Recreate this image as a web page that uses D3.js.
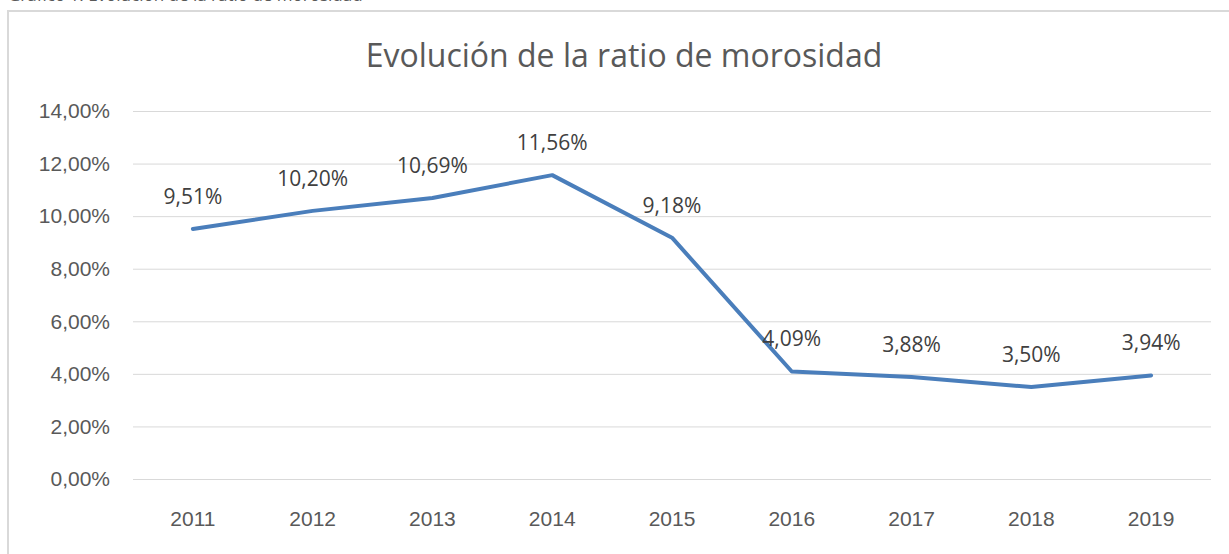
<!DOCTYPE html>
<html lang="es">
<head>
    <meta charset="UTF-8">
    <title>Evolución de la ratio de morosidad</title>
    <script src="https://d3js.org/d3.v7.min.js"></script>
    <style>
        body { margin: 0; background: #fff; }
        svg { display: block; font-family: "Open Sans", "Noto Sans", sans-serif; }
    </style>
</head>
<body>
    <svg width="1229" height="554"></svg>
    <script>
        // Datos
        const years = ["2011", "2012", "2013", "2014", "2015", "2016", "2017", "2018", "2019"];
        const ratio = [9.51, 10.20, 10.69, 11.56, 9.18, 4.09, 3.88, 3.50, 3.94];
        const yTicks = [0, 2, 4, 6, 8, 10, 12, 14];

        const data = years.map((y, i) => ({ year: y, value: ratio[i] }));
        const fmt = v => d3.format(".2f")(v).replace(".", ",") + "%";

        const svg = d3.select("svg");
        const margin = {top: 111, right: 18, bottom: 75, left: 133};
        const width = 1229 - margin.left - margin.right;
        const height = 554 - margin.top - margin.bottom;

        // caption cortado arriba
        svg.append("text")
            .attr("x", 8).attr("y", 0.5)
            .attr("font-size", 17).attr("fill", "#595959")
            .text("Gráfico 1. Evolución de la ratio de morosidad");

        // marco del gráfico
        svg.append("path")
            .attr("d", "M8,554 V11 H1229")
            .attr("fill", "none")
            .attr("stroke", "#d9d9d9")
            .attr("stroke-width", 2);

        svg.append("text")
            .attr("x", 624).attr("y", 67)
            .attr("text-anchor", "middle")
            .attr("font-size", 32).attr("fill", "#595959")
            .text("Evolución de la ratio de morosidad");

        const g = svg.append("g")
            .attr("transform", `translate(${margin.left},${margin.top})`);

        const x = d3.scaleBand().domain(years).range([0, width]);
        const y = d3.scaleLinear().domain([0, 14]).range([height, 0]);

        // eje y con rejilla
        const yAxis = g.append("g")
            .call(d3.axisLeft(y).tickValues(yTicks).tickSize(-width).tickFormat(fmt).tickPadding(23));
        yAxis.select(".domain").remove();
        yAxis.selectAll("line").attr("stroke", "#d9d9d9").attr("stroke-width", 1);
        yAxis.selectAll("text").attr("font-size", 21).attr("fill", "#595959");

        // eje x
        const xAxis = g.append("g")
            .attr("transform", `translate(0,${height})`)
            .call(d3.axisBottom(x).tickSize(0).tickPadding(32));
        xAxis.select(".domain").remove();
        xAxis.selectAll("text").attr("font-size", 21).attr("fill", "#595959");

        const cx = d => x(d.year) + x.bandwidth() / 2;

        g.append("path")
            .datum(data)
            .attr("fill", "none")
            .attr("stroke", "#4a7ebb")
            .attr("stroke-width", 4)
            .attr("stroke-linejoin", "round")
            .attr("stroke-linecap", "round")
            .attr("d", d3.line().x(cx).y(d => y(d.value)));

        g.selectAll(".lbl")
            .data(data)
            .enter().append("text")
            .attr("class", "lbl")
            .attr("x", cx)
            .attr("y", d => y(d.value) - 25)
            .attr("text-anchor", "middle")
            .attr("font-size", 21).attr("fill", "#404040")
            .text(d => fmt(d.value));
    </script>
</body>
</html>
